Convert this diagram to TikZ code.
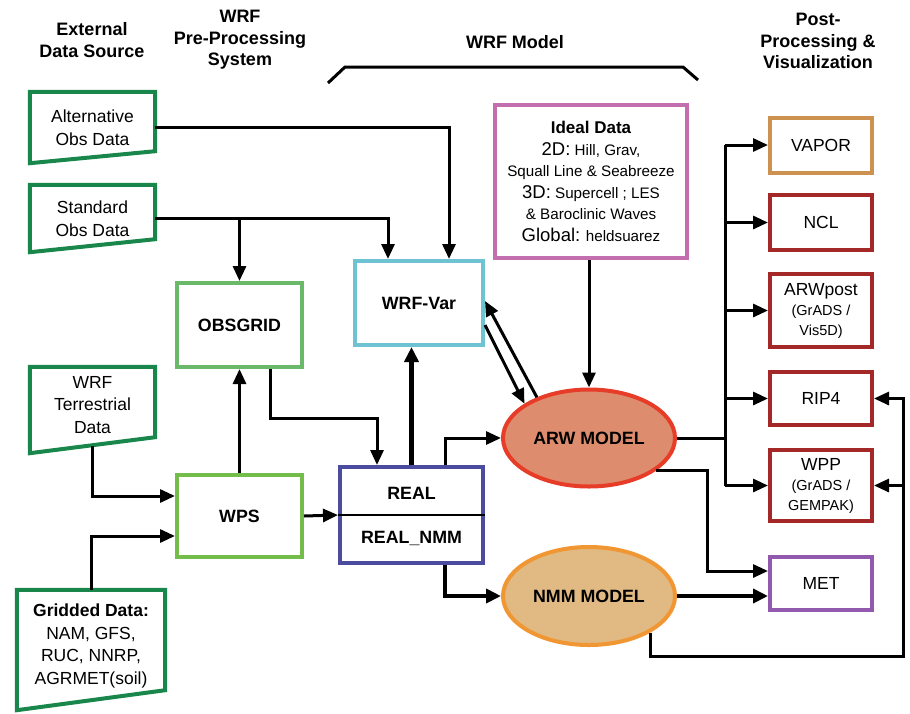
\documentclass[tikz,border=0pt]{standalone}
\usepackage{fontspec}
\setmainfont{Liberation Sans}
\usetikzlibrary{arrows.meta,shapes.geometric,calc}
\newcommand\fsz[2]{\fontsize{#1}{#2}\selectfont}
\definecolor{extgreen}{RGB}{25,135,75}
\definecolor{obsgreen}{RGB}{105,185,105}
\definecolor{wpsgreen}{RGB}{115,190,75}
\definecolor{varcyan}{RGB}{110,195,210}
\definecolor{realblue}{RGB}{75,75,160}
\definecolor{idealpink}{RGB}{195,110,175}
\definecolor{arwred}{RGB}{230,60,40}
\definecolor{arwfill}{RGB}{222,140,110}
\definecolor{nmmorange}{RGB}{240,150,50}
\definecolor{nmmfill}{RGB}{225,185,130}
\definecolor{vaportan}{RGB}{205,145,80}
\definecolor{postred}{RGB}{165,40,40}
\definecolor{metpurple}{RGB}{145,90,175}
\begin{document}
\begin{tikzpicture}[x=1pt,y=-1pt,
  hdr/.style={font=\bfseries\fsz{18}{21.5}, align=center, inner sep=0pt},
  extnode/.style={inner sep=0pt, align=center, font=\fsz{17.5}{22.5}},
  extshape/.style={draw=extgreen, line width=4pt, line join=miter},
  box/.style={draw, line width=4pt, fill=white, inner sep=0pt, align=center, font=\fsz{17.5}{22}},
  bbox/.style={box, font=\bfseries\fsz{17.8}{22}},
  model/.style={ellipse, line width=4pt, inner sep=0pt, minimum width=172pt, minimum height=97pt, font=\bfseries\fsz{17.8}{22}},
  conn/.style={line width=3pt, -{Triangle[length=15pt,width=13pt]}},
  tconn/.style={line width=4.5pt, -{Triangle[length=15pt,width=14pt]}},
  wire/.style={line width=3pt},
]
\useasboundingbox (0,0) rectangle (910,713);

% headers
\node[hdr] (h1) at (92,40) {External\\Data Source};
\node[hdr] (h2) at (240,40) {WRF\\Pre-Processing\\System};
\node[hdr] (h3) at (515,42) {WRF Model};
\node[hdr] (h4) at (818,41) {Post-\\Processing \&\\Visualization};
\draw[line width=3pt] (328,83) -- (345,67) -- (683,67) -- (698,80);

% external data sources
\node[extnode, minimum width=125pt, minimum height=71pt] (alt) at (92.5,127.5) {Alternative\\Obs Data};
\draw[extshape] (alt.north west) -- (alt.north east) -- ([yshift=12pt]alt.south east) -- (alt.south west) -- cycle;
\node[extnode, minimum width=125pt, minimum height=67pt] (std) at (92.5,218.5) {Standard\\Obs Data};
\draw[extshape] (std.north west) -- (std.north east) -- ([yshift=13pt]std.south east) -- (std.south west) -- cycle;
\node[extnode, minimum width=125pt, minimum height=86pt] (terr) at (92.5,410) {};
\node[extnode] (terrt) at (92.5,405) {WRF\\Terrestrial\\Data};
\draw[extshape] (terr.north west) -- (terr.north east) -- ([yshift=16pt]terr.south east) -- (terr.south west) -- cycle;
\node[extnode, minimum width=148pt, minimum height=120pt] (grid) at (91,650) {};
\node[extnode] (gridt) at (91,646) {\textbf{Gridded Data:}\\NAM, GFS,\\RUC, NNRP,\\AGRMET(soil)};
\draw[extshape] (grid.north west) -- (grid.north east) -- ([yshift=20pt]grid.south east) -- (grid.south west) -- cycle;

% pre-processing
\node[bbox, draw=obsgreen, minimum width=125pt, minimum height=84pt] (obsgrid) at (239.5,325) {OBSGRID};
\node[bbox, draw=wpsgreen, minimum width=125pt, minimum height=82pt] (wps) at (239.5,516) {WPS};

% WRF model
\node[bbox, draw=varcyan, minimum width=128pt, minimum height=84pt] (wrfvar) at (419,303) {WRF-Var};
\node[box, draw=realblue, minimum width=143pt, minimum height=96pt] (real) at (411.5,515) {};
\draw[line width=2pt] (real.west) -- (real.east);
\node[font=\bfseries\fsz{17.8}{22}] (realt) at (411.5,493) {REAL};
\node[font=\bfseries\fsz{17.8}{22}] (realn) at (411.5,538) {REAL\_NMM};
\node[box, draw=idealpink, minimum width=192pt, minimum height=153pt, font=\fsz{15.2}{21.5}] (ideal) at (591,181.5)
  {{\bfseries\fsz{17}{21.5}Ideal Data}\\{\fsz{18.5}{21.5}2D:} Hill, Grav,\\Squall Line \& Seabreeze\\{\fsz{18.5}{21.5}3D:} Supercell ; LES\\\& Baroclinic Waves\\{\fsz{18.5}{21.5}Global:} heldsuarez};
\node[model, draw=arwred, fill=arwfill] (arw) at (589,438) {ARW MODEL};
\node[model, draw=nmmorange, fill=nmmfill, minimum height=98pt] (nmm) at (589,596) {NMM MODEL};

% post-processing
\node[box, draw=vaportan, minimum width=102pt, minimum height=55pt] (vapor) at (821,145) {VAPOR};
\node[box, draw=postred, minimum width=102pt, minimum height=55pt] (ncl) at (821,222.5) {NCL};
\node[box, draw=postred, minimum width=102pt, minimum height=73pt, font=\fsz{17.5}{20}] (arwpost) at (821,310.5) {ARWpost\\{\fsz{14.5}{20}(GrADS /}\\{\fsz{14.5}{20}Vis5D)}};
\node[box, draw=postred, minimum width=102pt, minimum height=53pt] (rip4) at (821,398.5) {RIP4};
\node[box, draw=postred, minimum width=102pt, minimum height=71pt, font=\fsz{17.5}{20}] (wpp) at (821,485.5) {WPP\\{\fsz{14.5}{20}(GrADS /}\\{\fsz{14.5}{20}GEMPAK)}};
\node[box, draw=metpurple, minimum width=102pt, minimum height=53pt] (met) at (821,583.5) {MET};

% connectors: inputs
\draw[conn] (alt.east) -| ([xshift=30pt]wrfvar.north);
\draw[conn] (std.east) -| ([xshift=-31pt]wrfvar.north);
\draw[conn] (std.east -| obsgrid.north) -- (obsgrid.north);
\draw[conn] ([yshift=7pt]terr.south) |- ([yshift=20pt]wps.west);
\draw[conn] (grid.north) |- ([yshift=-20pt]wps.west);
\draw[conn] (wps.north) -- (obsgrid.south);
\draw[conn] ([xshift=31pt]obsgrid.south) -- ++(0,49) -| ([xshift=-34.5pt]real.north);
\draw[conn] (wps.east) -- (real.west);
\draw[tconn] (real.north) -- (real.north |- wrfvar.south);
\draw[conn] ([xshift=33.5pt]real.north) |- (arw.west);
\draw[tconn] ([xshift=33.5pt]real.south) |- (nmm.west);
\draw[conn] ([yshift=-22pt]wrfvar.east) -- (arw.152);
\draw[conn] (arw.142) -- ([yshift=2pt]wrfvar.east);
\draw[conn] (arw.north |- ideal.south) -- (arw.north);

% connectors: outputs
\draw[wire] (arw.east) -- ([xshift=48pt]arw.east) coordinate (bus);
\draw[wire] (bus |- vapor.west) -- (bus |- wpp.west);
\draw[conn] (bus |- vapor.west) -- (vapor.west);
\draw[conn] (bus |- ncl.west) -- (ncl.west);
\draw[conn] (bus |- arwpost.west) -- (arwpost.west);
\draw[conn] (bus |- rip4.west) -- (rip4.west);
\draw[conn] (bus |- wpp.west) -- (wpp.west);
\draw[conn] (arw.-26) -- ++(51,0) |- ([yshift=12.5pt]met.west);
\draw[tconn] (nmm.east) -- (nmm.east -| met.west);
\coordinate (ret) at (903,656);
\draw[conn] (nmm.-31) |- (ret) -- (ret |- rip4.east) -- (rip4.east);
\draw[conn] (ret |- wpp.east) -- (wpp.east);
\end{tikzpicture}
\end{document}
